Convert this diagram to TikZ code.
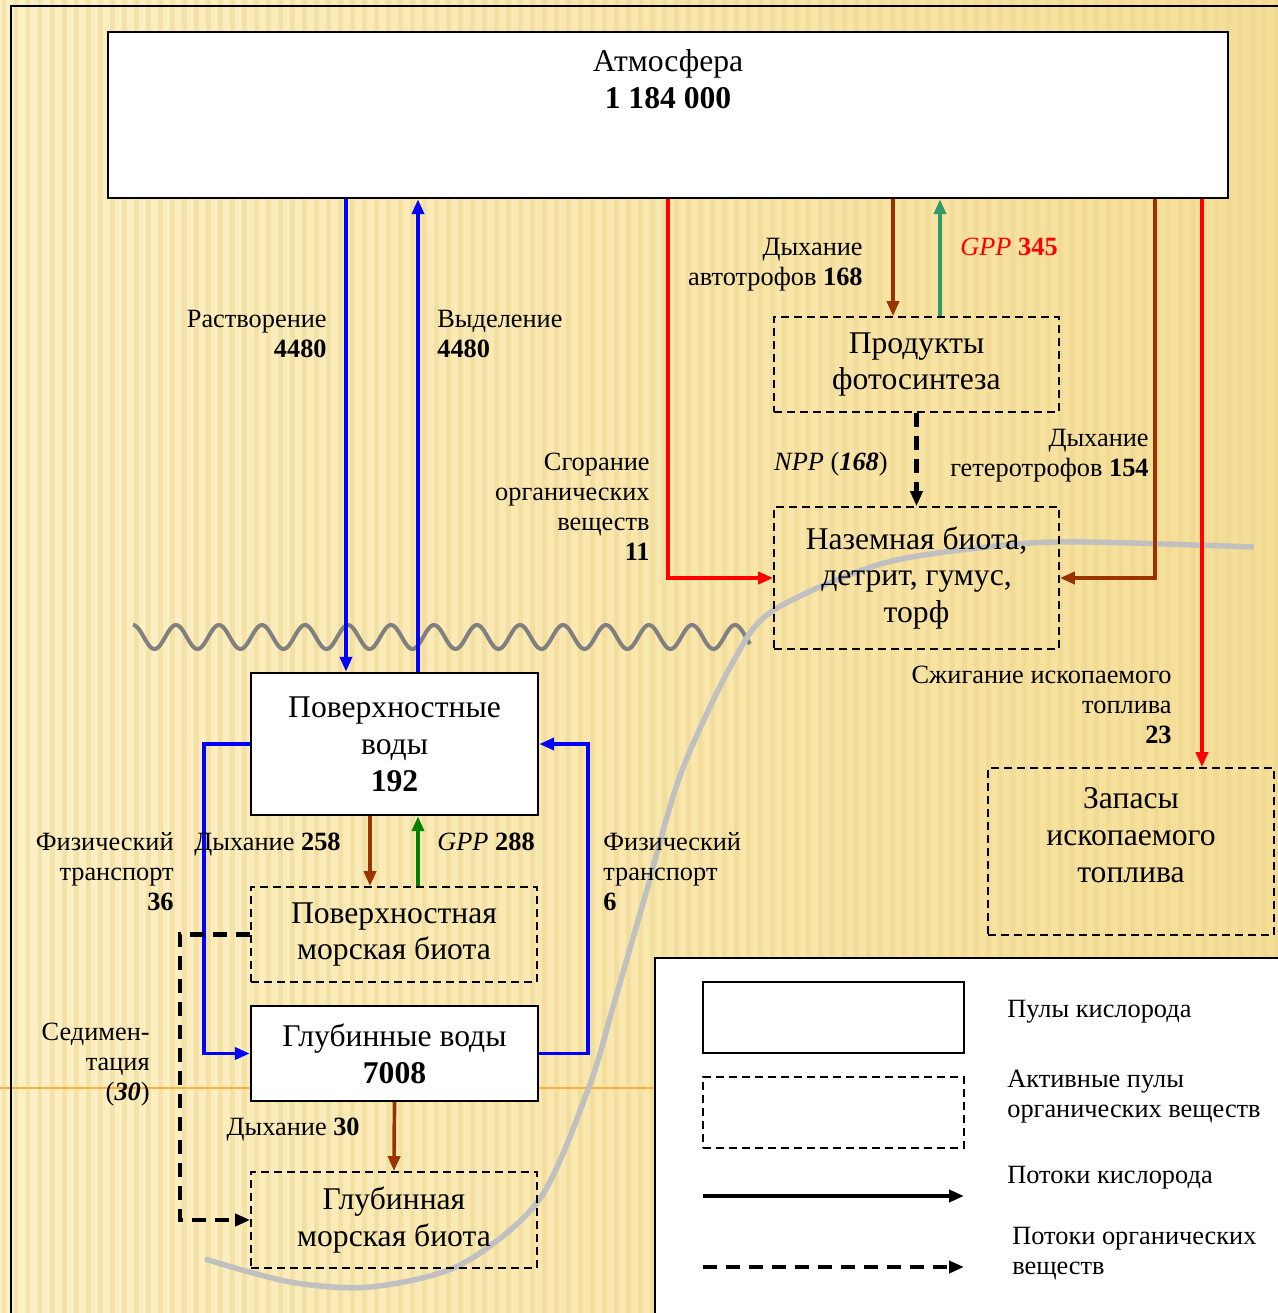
\documentclass[tikz,border=0pt]{standalone}
\usepackage{fontspec}
\setmainfont{Liberation Serif}
\usetikzlibrary{arrows.meta}
\definecolor{o2blue}{RGB}{0,0,255}
\definecolor{o2red}{RGB}{255,0,0}
\definecolor{resp}{RGB}{153,51,0}
\definecolor{gppsea}{RGB}{0,128,0}
\definecolor{gppland}{RGB}{51,153,102}
\definecolor{paperl}{RGB}{252,240,198}
\definecolor{paperr}{RGB}{245,222,150}
\definecolor{stripe}{RGB}{236,212,138}
\definecolor{orangeline}{RGB}{245,176,65}
\definecolor{wave}{RGB}{128,128,128}
\definecolor{shore}{RGB}{192,192,192}
\tikzset{>={Triangle[length=0.3cm,width=0.24cm]}}
\tikzset{
	o2pool/.style={draw,line width=1.4pt,fill=white,inner sep=0pt,align=center,font=\fontsize{18}{21}\selectfont},
	orgpool/.style={draw,line width=1pt,dash pattern=on 0.16cm off 0.1cm,inner sep=0pt,align=center,font=\fontsize{18}{21}\selectfont},
	o2flow/.style={line width=2.1pt,->},
	orgflow/.style={line width=2.4pt,->,dash pattern=on 0.28cm off 0.18cm},
	boxtxt/.style={font=\fontsize{18}{21}\selectfont,align=center,inner sep=0pt},
	lbl/.style={font=\fontsize{15}{17}\selectfont,inner sep=0pt},
}

\begin{document}
\begin{tikzpicture}[x=0.02cm,y=-0.02cm]
	\useasboundingbox (0,0) rectangle (1278,1313);
	\clip (0,0) rectangle (1278,1313);

	% tlo
	\shade[left color=paperl,right color=paperr] (0,0) rectangle (1278,1313);
	\foreach \x in {4,16,...,1278} {
		\draw[stripe,line width=0.1cm,opacity=0.45] (\x,0) -- (\x,1313);
	}
	\draw[orangeline,line width=1.2pt] (0,1088) -- (655,1088);
	\draw[line width=1.2pt] (11,1313) -- (11,6) -- (1278,6);

	% fala i brzeg
	\draw[wave,line width=0.08cm,domain=133:750,samples=400] plot (\x,{637-12*cos((\x-133)*8.3721)});
	\draw[shore,line width=0.11cm] plot[smooth] coordinates {(205,1259) (290,1282) (370,1287) (460,1265) (539,1200) (589,1087) (615,1000) (644,900) (681,773) (734,660) (774,610) (884,563) (1006,545) (1087,542) (1254,547)};

	% pule
	\node[o2pool,minimum width=22.4cm,minimum height=3.32cm] (atm) at (668,115) {};
	\node[boxtxt,anchor=base] (atmtxt) at (668,108) {Атмосфера\\\textbf{1 184 000}};
	\node[o2pool,minimum width=5.74cm,minimum height=2.84cm] (surf) at (394.5,744) {Поверхностные\\воды\\\textbf{192}};
	\node[o2pool,minimum width=5.74cm,minimum height=1.9cm] (deep) at (394.5,1053.5) {Глубинные воды\\\textbf{7008}};
	\node[orgpool,minimum width=5.72cm,minimum height=1.9cm] (surfbio) at (394,934.5) {Поверхностная\\морская биота};
	\node[orgpool,minimum width=5.72cm,minimum height=1.92cm] (deepbio) at (394,1220) {Глубинная\\морская биота};
	\node[orgpool,minimum width=5.7cm,minimum height=1.9cm] (photo) at (916.5,364.5) {Продукты\\фотосинтеза};
	\node[orgpool,minimum width=5.7cm,minimum height=2.84cm] (land) at (916.5,578) {Наземная биота,\\детрит, гумус,\\торф};
	\node[orgpool,minimum width=5.72cm,minimum height=3.34cm] (fossil) at (1131,851.5) {};
	\node[boxtxt] (fossiltxt) at (1131,835) {Запасы\\ископаемого\\топлива};

	% potoki tlenu
	\draw[o2flow,o2blue] (346,0 |- atm.south) -- (346,0 |- surf.north);
	\draw[o2flow,o2blue] (418,0 |- surf.north) -- (418,0 |- atm.south);
	\draw[o2flow,o2red] (668,0 |- atm.south) |- (land.west);
	\draw[o2flow,resp] (893,0 |- atm.south) -- (893,0 |- photo.north);
	\draw[o2flow,gppland] (940,0 |- photo.north) -- (940,0 |- atm.south);
	\draw[o2flow,resp] (1155,0 |- atm.south) |- (land.east);
	\draw[o2flow,o2red] (1202,0 |- atm.south) -- (1202,0 |- fossil.north);
	\draw[o2flow,o2blue] (surf.west) -- (204,0 |- surf.west) -- (204,0 |- deep.west) -- (deep.west);
	\draw[o2flow,o2blue] (deep.east) -- (588,0 |- deep.east) -- (588,0 |- surf.east) -- (surf.east);
	\draw[o2flow,resp] (370,0 |- surf.south) -- (370,0 |- surfbio.north);
	\draw[o2flow,gppsea] (418,0 |- surfbio.north) -- (418,0 |- surf.south);
	\draw[o2flow,resp] (deep.south) -- (deepbio.north);

	% potoki organiki
	\draw[orgflow] (photo.south) -- (land.north);
	\draw[orgflow] (surfbio.west) -- (180,0 |- surfbio.west) -- (180,0 |- deepbio.west) -- (deepbio.west);

	% podpisy
	\node[lbl,align=right,anchor=base east] (ldiss) at (327,357) {Растворение\\\textbf{4480}};
	\node[lbl,align=left,anchor=base west] (levol) at (437,357) {Выделение\\\textbf{4480}};
	\node[lbl,align=right,anchor=base east] (lburn) at (650,560) {Сгорание\\органических\\веществ\\\textbf{11}};
	\node[lbl,align=right,anchor=base east] (lautoresp) at (863,285) {Дыхание\\автотрофов \textbf{168}};
	\node[lbl,anchor=base west,o2red] (lgppland) at (960,255) {\textit{GPP} \textbf{345}};
	\node[lbl,anchor=base east] (lnpp) at (888,470) {\textit{NPP} (\textbf{\textit{168}})};
	\node[lbl,align=right,anchor=base east] (lheteroresp) at (1149,476) {Дыхание\\гетеротрофов \textbf{154}};
	\node[lbl,align=right,anchor=base east] (lfuel) at (1172,743) {Сжигание ископаемого\\топлива\\\textbf{23}};
	\node[lbl,align=right,anchor=base east] (ltransl) at (174,910) {Физический\\транспорт\\\textbf{36}};
	\node[lbl,anchor=base east] (lseadresp) at (341,850) {Дыхание \textbf{258}};
	\node[lbl,anchor=base west] (lgppsea) at (437,850) {\textit{GPP} \textbf{288}};
	\node[lbl,align=left,anchor=base west] (ltransr) at (603,910) {Физический\\транспорт\\\textbf{6}};
	\node[lbl,align=right,anchor=base east] (lsed) at (150,1100) {Седимен-\\тация\\(\textbf{\textit{30}})};
	\node[lbl,anchor=base east] (ldeepresp) at (360,1135) {Дыхание \textbf{30}};

	% legenda
	\draw[fill=white,line width=0.8pt] (655,958) rectangle (1290,1330);
	\node[o2pool,minimum width=5.22cm,minimum height=1.42cm] (legpool) at (833.5,1017.5) {};
	\node[orgpool,minimum width=5.22cm,minimum height=1.42cm] (legorg) at (833.5,1112.5) {};
	\coordinate (lego2a) at (703,1196);
	\coordinate (lego2b) at (964,1196);
	\coordinate (legorga) at (703,1267);
	\coordinate (legorgb) at (964,1267);
	\draw[o2flow,line width=2.3pt] (lego2a) -- (lego2b);
	\draw[orgflow] (legorga) -- (legorgb);
	\node[lbl,anchor=base west] (legt1) at (1007,1017) {Пулы кислорода};
	\node[lbl,align=left,anchor=base west] (legt2) at (1007,1117) {Активные пулы\\органических веществ};
	\node[lbl,anchor=base west] (legt3) at (1007,1183) {Потоки кислорода};
	\node[lbl,align=left,anchor=base west] (legt4) at (1012,1274) {Потоки органических\\веществ};
\end{tikzpicture}
\end{document}
